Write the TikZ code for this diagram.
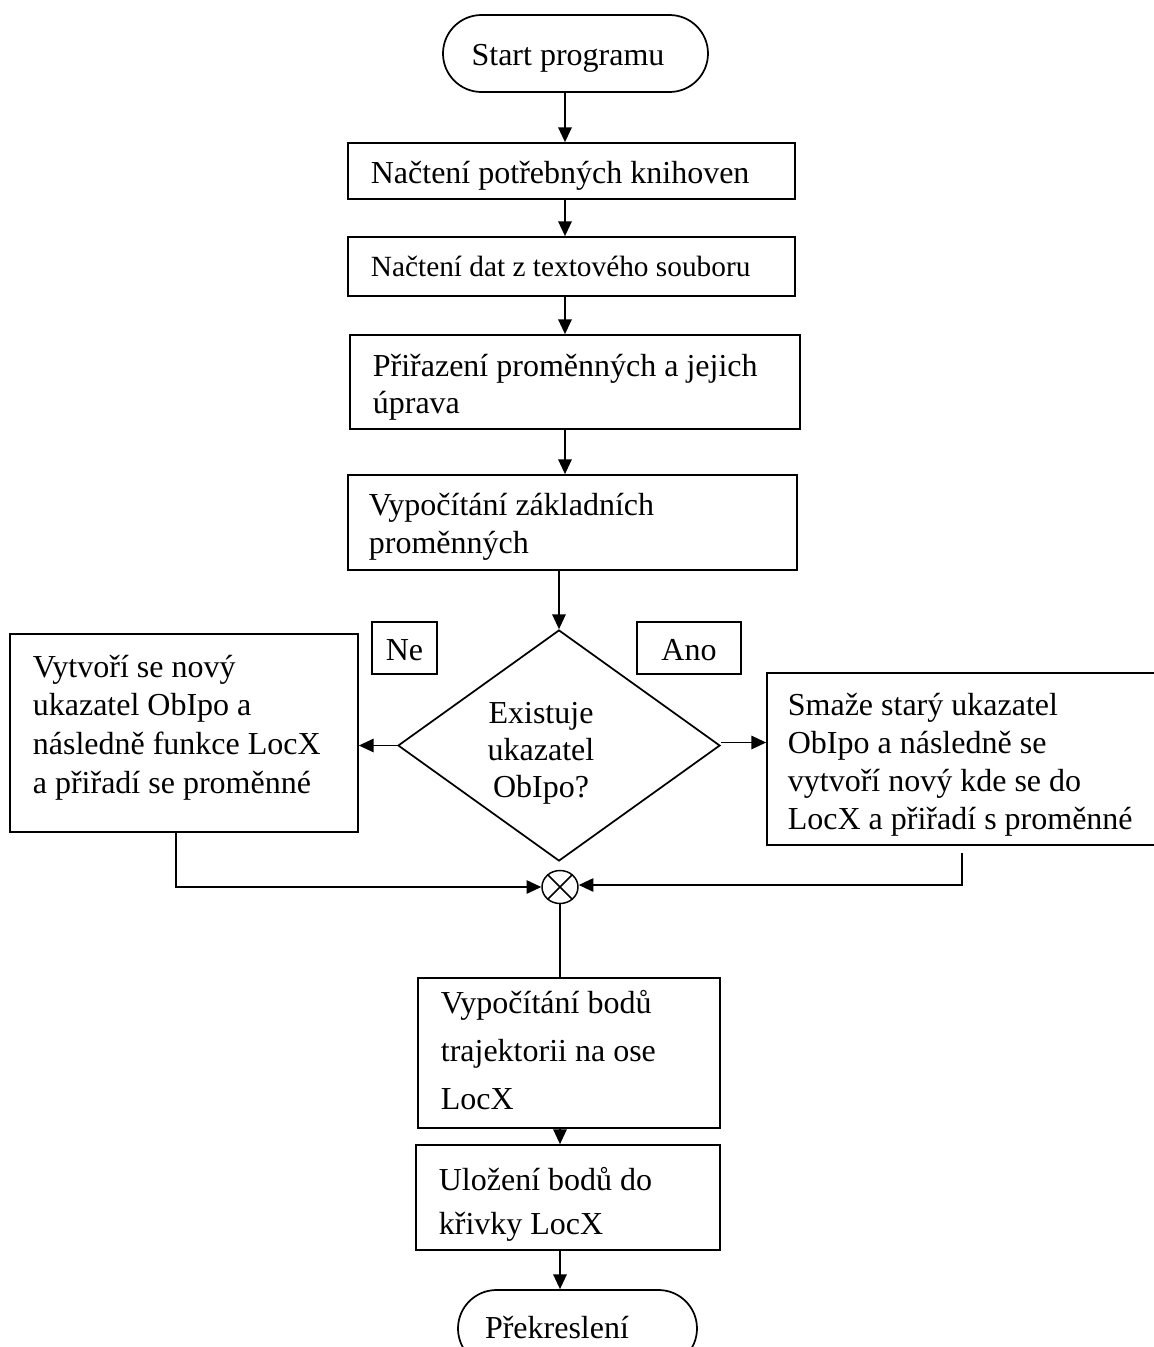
\documentclass[tikz,border=0pt]{standalone}
\usepackage{fontspec}
\setmainfont{Liberation Serif}
\usetikzlibrary{shapes.misc,shapes.geometric,arrows.meta,calc}
\newcommand{\mylines}[2][l]{\begin{tabular}[t]{@{}#1@{}}#2\end{tabular}}
\begin{document}
\begin{tikzpicture}[x=0.75pt,y=-0.75pt,
  line width=1.3pt,
  rbox/.style 2 args={draw, line width=1.3pt, inner sep=0, minimum width=#1*0.75pt, minimum height=#2*0.75pt},
  arr/.style={-{Triangle[length=11pt,width=10pt]}},
  txt/.style={inner sep=0, anchor=base west, font=\fontsize{24}{29}\selectfont},
  ctxt/.style={inner sep=0, anchor=base, font=\fontsize{24}{29}\selectfont}]
\clip (0,0) rectangle (1154,1347);
\fill[white] (0,0) rectangle (1154,1347);

% shapes
\node[rbox={265}{77}, rounded rectangle] (start) at (575.5,53.5) {};
\node[rbox={447}{56}] (b1) at (571.5,171) {};
\node[rbox={447}{59}] (b2) at (571.5,266.5) {};
\node[rbox={450}{94}] (b3) at (575,382) {};
\node[rbox={449}{95}] (b4) at (572.5,522.5) {};
\node[draw, diamond, inner sep=0, minimum width=322*0.75pt, minimum height=231*0.75pt] (dia) at (559,745.5) {};
\node[rbox={65}{52}] (ne) at (404.5,648) {};
\node[rbox={104}{52}] (ano) at (689,648) {};
\node[rbox={348}{198}] (L) at (184,733) {};
\node[rbox={393}{172}] (R) at (963.5,759) {};
\node[draw, ellipse, inner sep=0, line width=1.1pt, minimum width=36*0.75pt, minimum height=33*0.75pt] (X) at (560,887) {};
\draw[line width=1.1pt] (X.45) -- (X.225) (X.135) -- (X.315);
\node[rbox={302}{150}] (b5) at (569,1053) {};
\node[rbox={304}{105}] (b6) at (568,1197.5) {};
\node[rbox={239}{77}, rounded rectangle] (end) at (577.5,1328.5) {};

% texts
\node[ctxt] (tstart) at (568,65) {Start programu};
\node[txt] (t1) at (370,183) {Načtení potřebných knihoven};
\node[txt, font=\fontsize{22}{27}\selectfont] (t2) at (370,276) {Načtení dat z textového souboru};
\node[txt, font=\fontsize{24}{28}\selectfont] (t3) at (372,376) {\mylines{Přiřazení proměnných a jejich\\úprava}};
\node[txt, font=\fontsize{24}{28.5}\selectfont] (t4) at (368,515) {\mylines{Vypočítání základních\\proměnných}};
\node[ctxt] (tne) at (404.5,660) {Ne};
\node[ctxt] (tano) at (689,660) {Ano};
\node[ctxt, font=\fontsize{24}{28}\selectfont] (tdia) at (541,723) {\mylines[c]{Existuje\\ukazatel\\ObIpo?}};
\node[txt] (tL) at (32,677) {\mylines{Vytvoří se nový\\ukazatel ObIpo a\\následně funkce LocX\\a přiřadí se proměnné}};
\node[txt, font=\fontsize{24}{28.5}\selectfont] (tR) at (787,715) {\mylines{Smaže starý ukazatel\\ObIpo a následně se\\vytvoří nový kde se do\\LocX a přiřadí s proměnné}};
\node[txt, font=\fontsize{24}{36}\selectfont] (t5) at (440,1013) {\mylines{Vypočítání bodů\\trajektorii na ose\\LocX}};
\node[txt, font=\fontsize{24}{33}\selectfont] (t6) at (438,1190) {\mylines{Uložení bodů do\\křivky LocX}};
\node[ctxt] (tend) at (557,1338) {Překreslení};

% connectors
\draw[arr] ($(start.south)+(-10.5,0)$) -- ($(b1.north)+(-6.5,0)$);
\draw[arr] ($(b1.south)+(-6.5,0)$) -- ($(b2.north)+(-6.5,0)$);
\draw[arr] ($(b2.south)+(-6.5,0)$) -- ($(b3.north)+(-10,0)$);
\draw[arr] ($(b3.south)+(-10,0)$) -- ($(b4.north)+(-7.5,0)$);
\draw[arr] ($(b4.south)+(-13.5,0)$) -- (dia.north);
\draw[arr] (dia.west) -- (dia.west -| L.east);
\coordinate (de) at ($(dia.east)+(0,-3)$);
\draw[arr] (de) -- (de -| R.west);
\draw[arr] ($(L.south)+(-8,0)$) |- (X.west);
\coordinate (rs) at ($(R.south)+(-1.5,7)$);
\draw[arr] (rs) |- ($(X.east)+(0,-2)$);
\draw (X.south) -- (X.south |- b5.north);
\draw[arr] ($(b5.south)+(-9,0)$) -- ($(b6.north)+(-8,0)$);
\draw[arr] ($(b6.south)+(-8,0)$) -- ($(end.north)+(-17.5,0)$);
\end{tikzpicture}
\end{document}
